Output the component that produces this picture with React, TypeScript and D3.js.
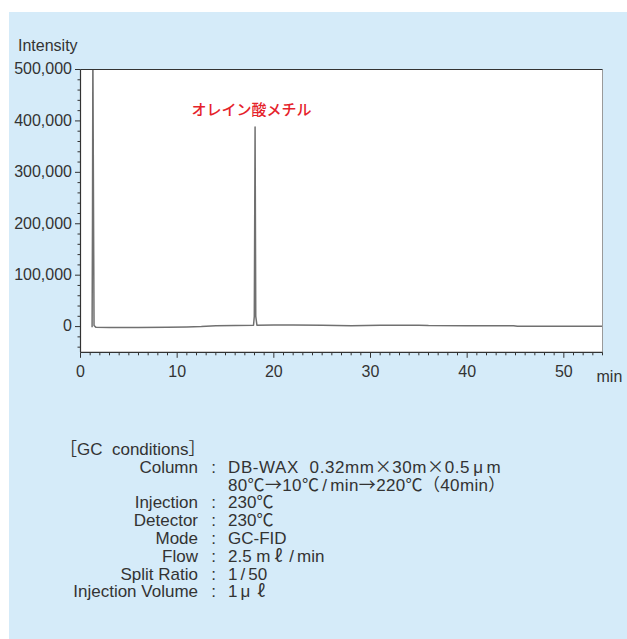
import React from "react";
import * as d3 from "d3";

// chromatogram trace (retention time in min, intensity)
const times = [1.2, 1.24, 1.28, 1.33, 1.4, 1.6, 3, 6, 9, 11, 12.5, 14, 16, 17.9, 17.98, 18.06, 18.13, 18.25, 20, 22, 25, 28, 31, 35, 36, 40, 44.8, 45.2, 50, 54];
const intensities = [-1500, 200000, 540000, 300000, 2000, -1500, -1600, -1800, -1500, -800, 0, 1500, 2200, 2500, 20000, 388000, 20000, 2800, 3000, 3000, 2500, 1800, 2800, 2800, 2000, 1800, 1800, 600, 600, 800];

const yMajor = [0, 100000, 200000, 300000, 400000, 500000];
const yMajorLabels = ["0", "100,000", "200,000", "300,000", "400,000", "500,000"];
const xMajor = [0, 10, 20, 30, 40, 50];
const xMajorLabels = ["0", "10", "20", "30", "40", "50"];

const peakLabel = "オレイン酸メチル";
const peakTime = 18.06;

const condTitle = "［GC  conditions］";
const condLabels = ["Column", "", "Injection", "Detector", "Mode", "Flow", "Split Ratio", "Injection Volume"];
const condValues = [
  "DB-WAX  0.32mm×30m×0.5μm",
  "80℃→10℃/min→220℃（40min）",
  "230℃",
  "230℃",
  "GC-FID",
  "2.5 mℓ/min",
  "1/50",
  "1μℓ",
];

const latin = "'Liberation Sans', Arial, Helvetica, sans-serif";
const cjk = "'Noto Sans CJK JP', sans-serif";
const wide = "×ℓ℃→（）［］";
const pad: Record<string, number> = { "μ": 3, "ℓ": 4, "/": 3 };

function Rich({ s }: { s: string }) {
  const parts: React.ReactNode[] = [];
  let buf = "";
  let bufC = false;
  let carry = 0;
  const flush = () => {
    if (buf) {
      parts.push(<tspan key={parts.length} dx={carry || undefined} fontFamily={bufC ? cjk : latin}>{buf}</tspan>);
      carry = 0;
      buf = "";
    }
  };
  for (const ch of s) {
    const c = wide.includes(ch);
    if (pad[ch] !== undefined) {
      flush();
      parts.push(<tspan key={parts.length} dx={carry + pad[ch]} fontFamily={c ? cjk : latin}>{ch}</tspan>);
      carry = pad[ch];
      continue;
    }
    if (buf && c !== bufC) flush();
    bufC = c;
    buf += ch;
  }
  flush();
  return <>{parts}</>;
}

export default function App() {
  const W = 627, H = 639;
  const left = 80.5, right = 602.5, top = 69.5, bottom = 352.3;
  const x = d3.scaleLinear().domain([0, 54]).range([left, right]);
  const y = d3.scaleLinear().domain([-50000, 500000]).range([bottom, top]);

  const pts = times.map((t, i) => [t, intensities[i]] as [number, number]);
  const line = d3.line<[number, number]>().x(d => x(d[0])).y(d => y(d[1]));

  const yMinor = d3.range(-40000, 500001, 20000).filter(v => v % 100000 !== 0);
  const xMinor = d3.range(1, 54.01, 1).filter(v => v % 10 !== 0);

  const txt = "#333";

  return (
    <svg width={W} height={H} style={{ position: "absolute", left: 0, top: 0 }} fontFamily={latin}>
      <rect x={0} y={0} width={W} height={H} fill="#fff" />
      <rect x={9} y={12} width={W - 9} height={H - 12} fill="#d5ebf9" />
      <rect x={left} y={top} width={right - left} height={bottom - top} fill="#fff" />
      <defs>
        <clipPath id="plotclip">
          <rect x={left} y={top} width={right - left} height={bottom - top} />
        </clipPath>
      </defs>
      <path d={line(pts) || ""} fill="none" stroke="#707070" strokeWidth={1.5} clipPath="url(#plotclip)" strokeLinejoin="round" />

      {/* frame */}
      <line x1={right} x2={right} y1={top} y2={bottom} stroke="#9a9a9a" strokeWidth={1} />
      <line x1={left} x2={right} y1={top} y2={top} stroke="#333" strokeWidth={1.2} />
      <line x1={left} x2={left} y1={top} y2={bottom} stroke="#333" strokeWidth={1.2} />
      <line x1={left} x2={right} y1={bottom} y2={bottom} stroke="#333" strokeWidth={1.2} />

      {/* y ticks */}
      {yMinor.map(v => (
        <line key={"ym" + v} x1={left - 3} x2={left} y1={y(v)} y2={y(v)} stroke="#333" strokeWidth={1} />
      ))}
      {yMajor.map((v, i) => (
        <g key={"yM" + v}>
          <line x1={left - 5.5} x2={left} y1={y(v)} y2={y(v)} stroke="#333" strokeWidth={1} />
          <text x={72} y={y(v) + 4.8} textAnchor="end" fontSize={16} fill={txt}>{yMajorLabels[i]}</text>
        </g>
      ))}
      {/* x ticks */}
      {xMinor.map(v => (
        <line key={"xm" + v} x1={x(v)} x2={x(v)} y1={bottom} y2={bottom + 3} stroke="#333" strokeWidth={1} />
      ))}
      {xMajor.map((v, i) => (
        <g key={"xM" + v}>
          <line x1={x(v)} x2={x(v)} y1={bottom} y2={bottom + 5.5} stroke="#333" strokeWidth={1} />
          <text x={x(v)} y={377} textAnchor="middle" fontSize={16} fill={txt}>{xMajorLabels[i]}</text>
        </g>
      ))}
      <text x={18} y={50.7} fontSize={16} fill={txt}>Intensity</text>
      <text x={596.5} y={381.5} fontSize={16} fill={txt}>min</text>

      <text x={x(peakTime) - 3.5} y={114.5} textAnchor="middle" fontSize={15} fontWeight={500}
        fontFamily={cjk} fill="#e5222a">{peakLabel}</text>

      {/* GC conditions */}
      <text x={60} y={454.5} fontSize={17} fill={txt} style={{ whiteSpace: "pre" }}>
        <Rich s={condTitle} />
      </text>
      {condLabels.map((lab, i) => {
        const by = 472.7 + i * 17.8;
        return (
          <g key={"c" + i}>
            {lab && <text x={198} y={by} textAnchor="end" fontSize={17} fill={txt}>{lab}</text>}
            {lab && <text x={213.5} y={by} textAnchor="middle" fontSize={17} fill={txt}>:</text>}
            <text x={228} y={by} fontSize={17} fill={txt} letterSpacing={i === 0 ? 0.6 : i === 1 ? 0.35 : 0}
              style={{ whiteSpace: "pre" }}>
              <Rich s={condValues[i]} />
            </text>
          </g>
        );
      })}
    </svg>
  );
}
